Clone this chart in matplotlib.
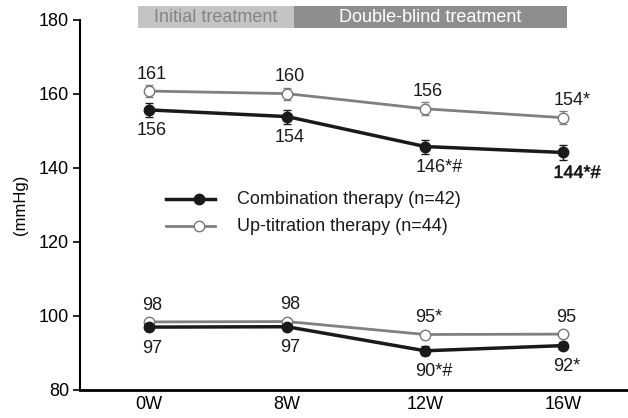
import matplotlib.pyplot as plt
from matplotlib.patches import Rectangle
import matplotlib.patheffects as pe
import matplotlib.transforms as mtransforms

plt.rcParams['font.family'] = ['Liberation Sans', 'DejaVu Sans']

weeks = ["0W", "8W", "12W", "16W"]

# systolic / diastolic blood pressure (mmHg), mean and error
combo_sbp = [155.7, 153.9, 145.8, 144.2]
combo_sbp_err = [1.8, 1.9, 1.9, 2.0]
uptit_sbp = [160.8, 160.1, 156.0, 153.6]
uptit_sbp_err = [1.7, 1.6, 1.8, 1.7]
combo_dbp = [97.0, 97.1, 90.6, 92.0]
combo_dbp_err = [0.6, 0.6, 1.2, 0.9]
uptit_dbp = [98.4, 98.5, 95.0, 95.1]
uptit_dbp_err = [0.6, 0.6, 0.9, 0.7]

combo_sbp_lbl = ["156", "154", "146*#", "144*#"]
uptit_sbp_lbl = ["161", "160", "156", "154*"]
combo_dbp_lbl = ["97", "97", "90*#", "92*"]
uptit_dbp_lbl = ["98", "98", "95*", "95"]

x = list(range(len(weeks)))

fig = plt.figure(figsize=(6.28, 4.18), dpi=100)
ax = fig.add_axes([80/628, 28/418, 1 - 80/628, 370/418])

black = "#1a1a1a"
gray = "#808080"

def draw(vals, err, color, face, lw):
    ax.errorbar(x, vals, yerr=err, color=color, lw=lw, marker="o", ms=7.5,
                mfc=face, mec=color if face != "white" else "#777777", mew=1.0,
                elinewidth=1.0, capsize=3, capthick=1.0, zorder=3)

draw(uptit_sbp, uptit_sbp_err, gray, "white", 2.0)
draw(combo_sbp, combo_sbp_err, black, black, 2.5)
draw(uptit_dbp, uptit_dbp_err, gray, "white", 2.0)
draw(combo_dbp, combo_dbp_err, black, black, 2.5)

def labels(vals, texts, dy, heavy_last=False):
    for i, (v, t) in enumerate(zip(vals, texts)):
        has_mark = "*" in t
        dx = -7 if has_mark else 2
        ha = "left" if has_mark else "center"
        va = "bottom" if dy > 0 else "top"
        a = ax.annotate(t, (x[i], v), xytext=(dx, dy), textcoords="offset points",
                        ha=ha, va=va, fontsize=13, color=black)
        if heavy_last and i == len(vals) - 1:
            a.set_path_effects([pe.withStroke(linewidth=0.35, foreground=black)])

labels(uptit_sbp, uptit_sbp_lbl, 6)
labels(combo_sbp, combo_sbp_lbl, -9, heavy_last=True)
labels(uptit_dbp, uptit_dbp_lbl, 6)
labels(combo_dbp, combo_dbp_lbl, -9)

# legend drawn by hand in data space
leg_y = [131.5, 124.2]
for yy, col, face, lw, txt in [(leg_y[0], black, black, 2.5, "Combination therapy (n=42)"),
                               (leg_y[1], gray, "white", 2.0, "Up-titration therapy (n=44)")]:
    ax.plot([0.12, 0.48], [yy, yy], color=col, lw=lw)
    ax.plot([0.36], [yy], marker="o", ms=7.5, mfc=face,
            mec=col if face != "white" else "#777777", mew=1.0, color=col)
    ax.text(0.64, yy, txt, va="center", ha="left", fontsize=13, color=black)

# treatment period bands
trans = mtransforms.blended_transform_factory(ax.transData, ax.transAxes)
ax.add_patch(Rectangle((-0.08, 0.978), 1.13, 0.06, transform=trans,
                       facecolor="#c4c4c4", edgecolor="none", clip_on=False))
ax.add_patch(Rectangle((1.05, 0.978), 1.98, 0.06, transform=trans,
                       facecolor="#8e8e8e", edgecolor="none", clip_on=False))
ax.text(0.485, 1.008, "Initial treatment", transform=trans, ha="center", va="center",
        fontsize=13, color="#858585")
ax.text(2.04, 1.008, "Double-blind treatment", transform=trans, ha="center", va="center",
        fontsize=13, color="white")

ax.set_xlim(-0.5, 3.47)
ax.set_ylim(80, 180)
ax.set_yticks([80, 100, 120, 140, 160, 180])
ax.set_xticks(x)
ax.set_xticklabels(weeks)
ax.tick_params(axis="x", length=0, pad=4, labelsize=13)
ax.tick_params(axis="y", length=5, width=1.2, labelsize=13, pad=3)
ax.set_ylabel("(mmHg)", fontsize=12, labelpad=8)
for s in ["top", "right"]:
    ax.spines[s].set_visible(False)
ax.spines["left"].set_linewidth(1.5)
ax.spines["bottom"].set_linewidth(2.0)

fig.savefig("out.png", dpi=100)
